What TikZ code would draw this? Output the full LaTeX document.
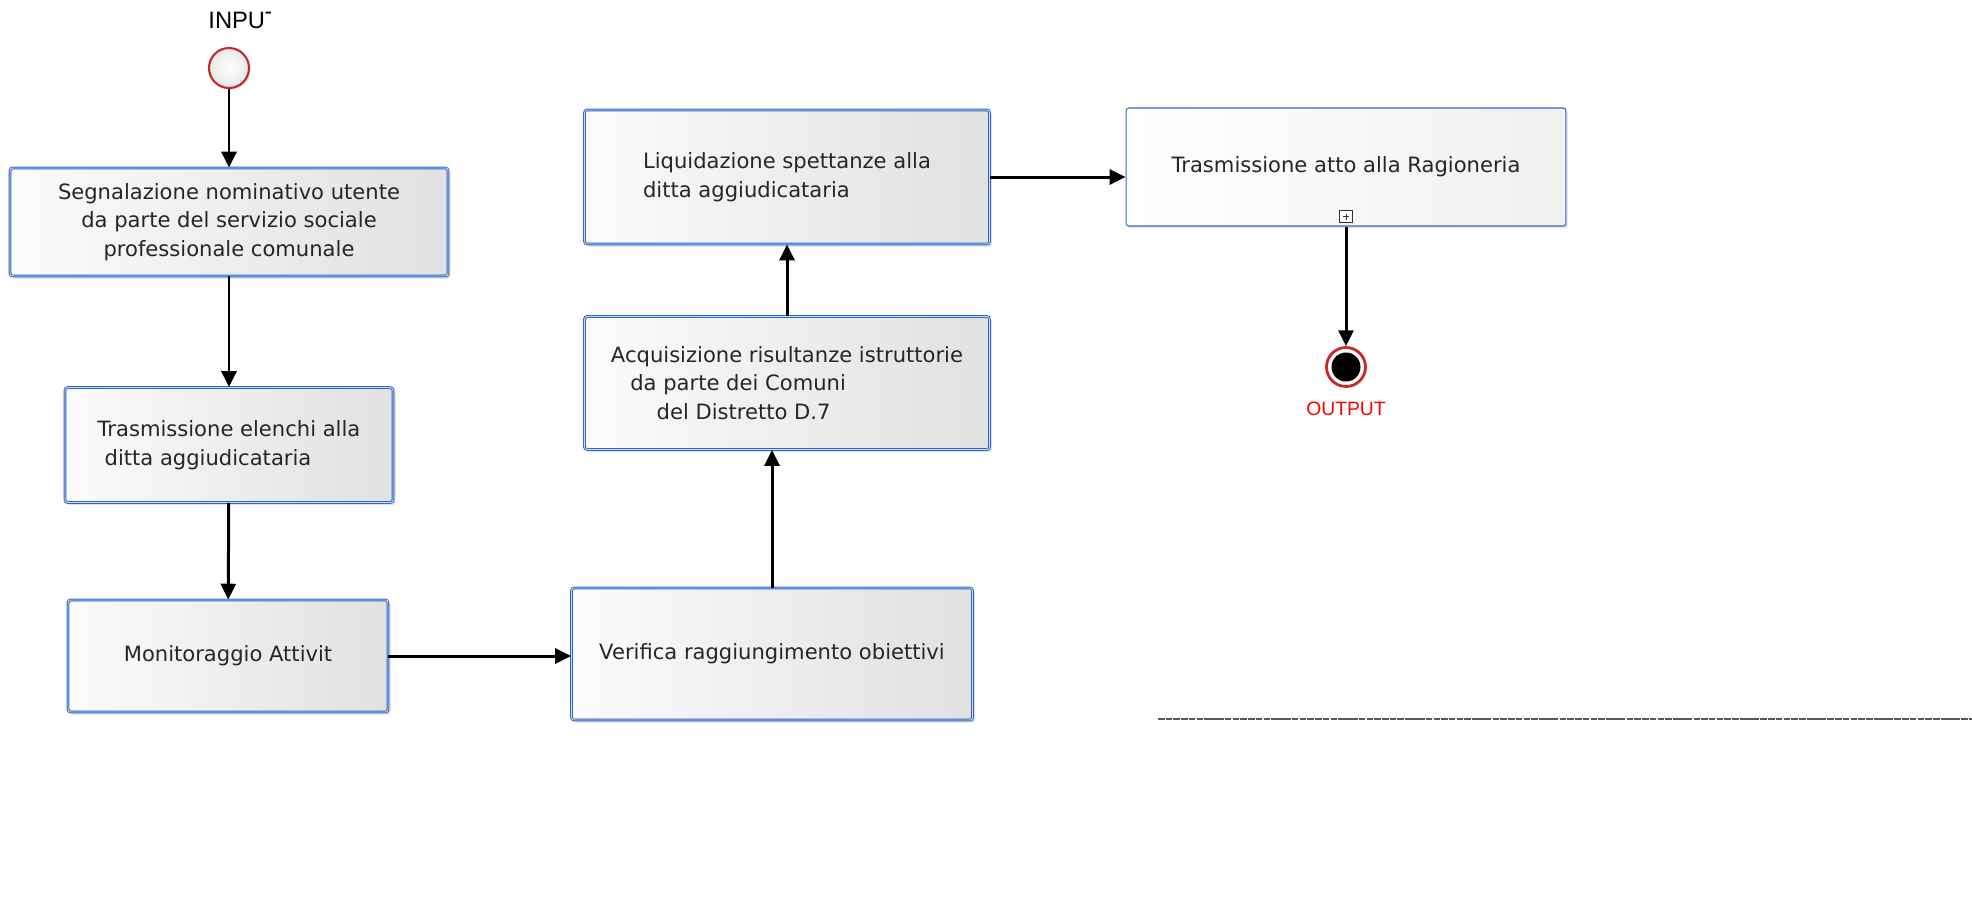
\documentclass[tikz,border=0pt]{standalone}
\usepackage{fontspec}
\setmainfont{DejaVu Sans}
\newfontfamily\evfont{Liberation Sans}
\usetikzlibrary{arrows.meta,shadows}

\definecolor{taskblue}{RGB}{48,102,200}
\definecolor{taskgap}{RGB}{205,218,240}
\definecolor{evred}{RGB}{200,40,40}

\tikzset{
	task/.style={draw=taskblue, double=taskgap, double distance=0.5pt, line width=0.55pt,
		rounded corners=1.5pt, left color=gray!3, right color=gray!24,
		drop shadow={opacity=0.25,shadow xshift=1.5pt,shadow yshift=-1.5pt},
		text=black!85, font=\fontsize{12}{16.4}\selectfont, inner sep=0pt},
	subtask/.style={draw=taskblue, line width=0.6pt, rounded corners=1.5pt,
		left color=white, right color=gray!12,
		drop shadow={opacity=0.2,shadow xshift=1.2pt,shadow yshift=-1.2pt},
		text=black!85, font=\fontsize{12}{16.4}\selectfont, inner sep=0pt},
	plusbox/.style={draw=black!80, line width=0.5pt, fill=white, minimum size=0.25cm, inner sep=0pt,
		path picture={\draw[line width=0.5pt] ([xshift=-1.7pt]path picture bounding box.center) -- ([xshift=1.7pt]path picture bounding box.center)
			([yshift=-1.7pt]path picture bounding box.center) -- ([yshift=1.7pt]path picture bounding box.center);}},
	startev/.style={circle, draw=evred, line width=1.2pt, minimum size=0.8cm, inner sep=0pt,
		inner color=white, outer color=gray!18,
		drop shadow={opacity=0.25,shadow xshift=1pt,shadow yshift=-1pt}},
	endev/.style={circle, draw=evred, line width=1.6pt, minimum size=0.78cm, inner sep=0pt, fill=white,
		path picture={\fill[black] (path picture bounding box.center) circle (0.29cm);}},
	evlabel/.style={font=\evfont\fontsize{13.5}{16}\selectfont, inner sep=0pt},
	flow/.style={line width=1.7pt, -{Triangle[length=9pt,width=8.5pt]}}
}

\begin{document}
\begin{tikzpicture}[x=0.02cm,y=-0.02cm]
	\useasboundingbox (0,0) rectangle (1972,907);
	% start event
	\begin{scope}
		\clip (150,0) rectangle (270,45);
		\node[evlabel] (inlab) at (244,20) {INPUT};
	\end{scope}
	\node[startev] (in) at (229,68) {};
	% left column
	\node[task, minimum width=8.76cm, minimum height=2.16cm, align=center] (segn) at (229,222)
		{Segnalazione nominativo utente\\da parte del servizio sociale\\professionale comunale};
	\node[task, minimum width=6.56cm, minimum height=2.30cm, align=left] (elenchi) at (229,445)
		{Trasmissione elenchi alla\\\hspace*{4pt}ditta aggiudicataria};
	\node[task, minimum width=6.40cm, minimum height=2.24cm] (monit) at (228,656) {Monitoraggio Attivit};
	% middle column
	\node[task, minimum width=8.02cm, minimum height=2.64cm] (verif) at (772,654) {Verifica raggiungimento obiettivi};
	\node[task, minimum width=8.10cm, minimum height=2.66cm, align=left] (acquis) at (787,383)
		{Acquisizione risultanze istruttorie\\\hspace*{11pt}da parte dei Comuni\\\hspace*{26pt}del Distretto D.7};
	\node[task, minimum width=8.10cm, minimum height=2.68cm, align=left] (liquid) at (787,177)
		{Liquidazione spettanze alla\\ditta aggiudicataria};
	% right column
	\node[subtask, minimum width=8.80cm, minimum height=2.36cm] (ragion) at (1346,167) {Trasmissione atto alla Ragioneria};
	\node[plusbox] (plus) at ([yshift=0.2cm]ragion.south) {};
	\node[endev] (out) at (1346,367) {};
	\node[evlabel, text=red, font=\evfont\fontsize{11}{13}\selectfont] (outlab) at (1346,409) {OUTPUT};

	\draw[flow] (in) -- (segn);
	\draw[flow] (segn) -- (elenchi);
	\draw[flow] (elenchi) -- (monit);
	\draw[flow] (monit.east) -- (monit.east -| verif.west);
	\draw[flow] (verif.north) -- (verif.north |- acquis.south);
	\draw[flow] (acquis) -- (liquid);
	\draw[flow] (liquid.east) -- (liquid.east -| ragion.west);
	\draw[flow] (ragion.south) -- (out);

	% rule at the bottom
	\coordinate (rulea) at (1158,719);
	\coordinate (ruleb) at (1972,719);
	\draw[black!65, line width=1pt, dash pattern={on 3.7pt off 0.7pt on 3.7pt off 0.7pt on 3.7pt off 0.7pt on 3.7pt off 0.7pt on 3.7pt off 0.7pt on 3.7pt off 0.7pt on 11pt off 0.7pt}] (rulea) -- (ruleb);
\end{tikzpicture}
\end{document}
